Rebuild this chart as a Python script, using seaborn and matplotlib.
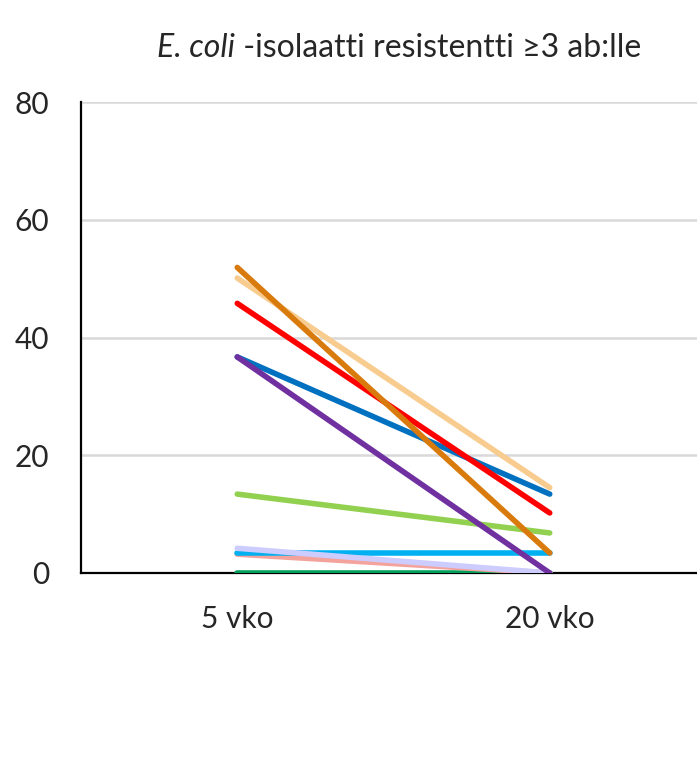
import matplotlib
matplotlib.use("Agg")
import matplotlib.pyplot as plt
import seaborn as sns
import pandas as pd

categories = ["5 vko", "20 vko"]
series_names = ["s_darkgreen", "s_salmon", "s_cyan", "s_lavender", "s_green",
                "s_blue", "s_purple", "s_peach", "s_red", "s_orange"]
vals_5vko = [0.0, 3.2, 3.4, 4.2, 13.4, 36.7, 36.7, 50.1, 45.8, 51.9]
vals_20vko = [0.0, 0.0, 3.4, 0.0, 6.8, 13.4, 0.0, 14.5, 10.2, 3.4]
colors = ["#00A05A", "#F4A39C", "#00B0F0", "#CCCCFF", "#92D050",
          "#0070C0", "#7030A0", "#F8CB8F", "#FF0000", "#D97A0C"]
yticks = [0, 20, 40, 60, 80]

rows = []
for name, a, b in zip(series_names, vals_5vko, vals_20vko):
    rows.append({"series": name, "week": categories[0], "value": a})
    rows.append({"series": name, "week": categories[1], "value": b})
df = pd.DataFrame(rows)

sns.set_style("white")
plt.rcParams["font.family"] = ["Lato", "DejaVu Sans"]

fig = plt.figure(figsize=(6.97, 7.68), dpi=100)
ax = fig.add_axes([81 / 697, 1 - 573 / 768, (706 - 81) / 697, (573 - 102) / 768])

sns.lineplot(data=df, x="week", y="value", hue="series", hue_order=series_names,
             palette=dict(zip(series_names, colors)), linewidth=4.0,
             legend=False, ax=ax, sort=False, solid_capstyle="round")
for ln in ax.get_lines():
    ln.set_zorder(3)

ax.set_xlim(-0.5, 1.5)
ax.set_ylim(0, 80)
ax.set_yticks(yticks)
ax.set_xlabel("")
ax.set_ylabel("")
ax.yaxis.grid(True, color="#D9D9D9", linewidth=1.8)
ax.xaxis.grid(False)
ax.set_axisbelow(True)
for s in ["top", "right"]:
    ax.spines[s].set_visible(False)
for s in ["left", "bottom"]:
    ax.spines[s].set_color("black")
    ax.spines[s].set_linewidth(1.6)
    ax.spines[s].set_zorder(2.5)
ax.tick_params(axis="y", length=0, pad=23, labelsize=21.5)
ax.tick_params(axis="x", length=0, pad=23, labelsize=21.5)

t1 = fig.text(157 / 697, 1 - 57 / 768, "E. coli", style="italic", fontsize=23,
              ha="left", va="baseline")
fig.canvas.draw()
ax.annotate(" -isolaatti resistentti ≥3 ab:lle", xy=(1, 0), xycoords=t1,
            xytext=(0, 0), textcoords="offset points", fontsize=23,
            ha="left", va="bottom", annotation_clip=False)

fig.savefig("out.png", dpi=100)
